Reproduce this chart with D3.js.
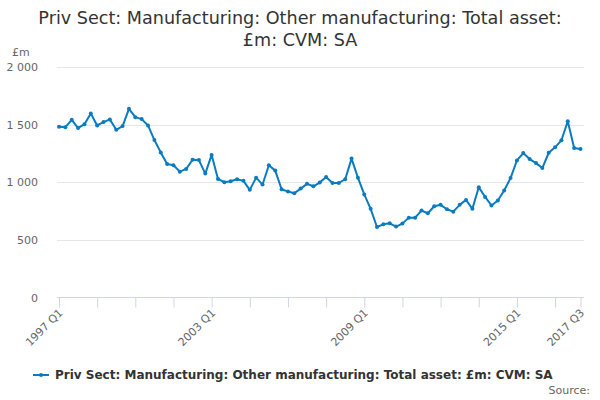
<!DOCTYPE html>
<html>
<head>
<meta charset="utf-8">
<script src="https://cdn.jsdelivr.net/npm/d3@7"></script>
<style>
  body { margin: 0; background: #fff; }
  svg { font-family: "DejaVu Sans", sans-serif; display: block; }
</style>
</head>
<body>
<div id="chart"></div>
<script>
// quarterly values 1997 Q1 .. 2017 Q3
var startYear = 1997, startQ = 1;
var values = [
  1481, 1478, 1542, 1470, 1504, 1597, 1493, 1522, 1545, 1455,
  1487, 1637, 1565, 1548, 1493, 1366, 1259, 1159, 1147, 1092,
  1116, 1195, 1192, 1075, 1237, 1029, 1000, 1009, 1026, 1012,
  934, 1040, 980, 1147, 1101, 939, 919, 905, 945, 986,
  965, 997, 1046, 994, 994, 1026, 1205, 1040, 894, 769,
  612, 635, 644, 615, 641, 693, 693, 754, 731, 792,
  804, 766, 745, 804, 847, 769, 957, 873, 798, 841,
  928, 1036, 1189, 1253, 1201, 1166, 1123, 1256, 1303, 1364,
  1529, 1297, 1288
];
var labels = values.map(function(v, i) {
  var q = startQ - 1 + i;
  return (startYear + Math.floor(q / 4)) + " Q" + (q % 4 + 1);
});
var yTicks = [0, 500, 1000, 1500, 2000];
var labelIdx = [0, 24, 48, 72, 82];
var seriesName = "Priv Sect: Manufacturing: Other manufacturing: Total asset: £m: CVM: SA";
var titleLines = ["Priv Sect: Manufacturing: Other manufacturing: Total asset:", "£m: CVM: SA"];

var W = 600, H = 400;
var margin = { top: 67, right: 20, bottom: 103, left: 59 };
var lineColor = "#0b7bc1";

var svg = d3.select("#chart").append("svg")
  .attr("width", W).attr("height", H);

// title
svg.append("g").selectAll("text")
  .data(titleLines).enter().append("text")
  .attr("x", W / 2)
  .attr("y", (d, i) => 24 + i * 22)
  .attr("text-anchor", "middle")
  .attr("font-size", "17.6px")
  .attr("fill", "#333")
  .text(d => d);

var x = d3.scaleLinear()
  .domain([0, values.length - 1])
  .range([margin.left, 580.5]);

var y = d3.scaleLinear()
  .domain([0, 2000])
  .range([297.5, 67]);

// gridlines
svg.append("g").selectAll("line")
  .data(yTicks.filter(d => d > 0)).enter().append("line")
  .attr("x1", 57).attr("x2", 584)
  .attr("y1", d => Math.round(y(d)) + 0.5)
  .attr("y2", d => Math.round(y(d)) + 0.5)
  .attr("stroke", "#e6e6e6");

// y axis labels
var yAxis = svg.append("g")
  .attr("transform", "translate(41,0)")
  .call(d3.axisLeft(y).tickValues(yTicks).tickSize(0)
    .tickFormat(d => d3.format(",")(d).replace(",", " ")));
yAxis.select(".domain").remove();
yAxis.selectAll("text")
  .attr("font-family", "DejaVu Sans, sans-serif")
  .attr("font-size", "11px")
  .attr("fill", "#666")
  .attr("dx", 0);

svg.append("text")
  .attr("x", 12).attr("y", 56)
  .attr("font-size", "11px")
  .attr("fill", "#666")
  .text("£m");

// x axis
var tickIdx = d3.range(0, values.length, 6).concat([values.length - 1]);
var xAxis = svg.append("g")
  .attr("transform", "translate(0,297.5)")
  .call(d3.axisBottom(x).tickValues(tickIdx).tickSize(10).tickSizeOuter(0)
    .tickFormat(d => labelIdx.indexOf(d) >= 0 ? labels[d] : ""));
xAxis.select(".domain")
  .attr("stroke", "#ccd6eb")
  .attr("d", "M57,0H584");
xAxis.selectAll(".tick line").attr("stroke", "#ccd6eb");
xAxis.selectAll("text")
  .attr("font-family", "DejaVu Sans, sans-serif")
  .attr("font-size", "11px")
  .attr("fill", "#666")
  .attr("text-anchor", "end")
  .attr("y", 0)
  .attr("dy", 0)
  .attr("transform", "translate(4,16) rotate(-45)");

// line + markers
var line = d3.line()
  .x((d, i) => x(i))
  .y(d => y(d));

svg.append("path")
  .datum(values)
  .attr("d", line)
  .attr("fill", "none")
  .attr("stroke", lineColor)
  .attr("stroke-width", 2)
  .attr("stroke-linejoin", "round");

svg.append("g").selectAll("circle")
  .data(values).enter().append("circle")
  .attr("cx", (d, i) => x(i))
  .attr("cy", d => y(d))
  .attr("r", 2)
  .attr("fill", lineColor);

// legend
var lg = svg.append("g").attr("transform", "translate(33,375)");
lg.append("line")
  .attr("x1", 0).attr("x2", 16)
  .attr("y1", 0).attr("y2", 0)
  .attr("stroke", lineColor).attr("stroke-width", 2);
lg.append("circle").attr("cx", 8).attr("cy", 0).attr("r", 2).attr("fill", lineColor);
lg.append("text")
  .attr("x", 22).attr("y", 4)
  .attr("font-size", "12px")
  .attr("font-weight", "bold")
  .attr("fill", "#333")
  .text(seriesName);

svg.append("text")
  .attr("x", 590).attr("y", 394)
  .attr("text-anchor", "end")
  .attr("font-size", "11px")
  .attr("fill", "#666")
  .text("Source:");
</script>
</body>
</html>
